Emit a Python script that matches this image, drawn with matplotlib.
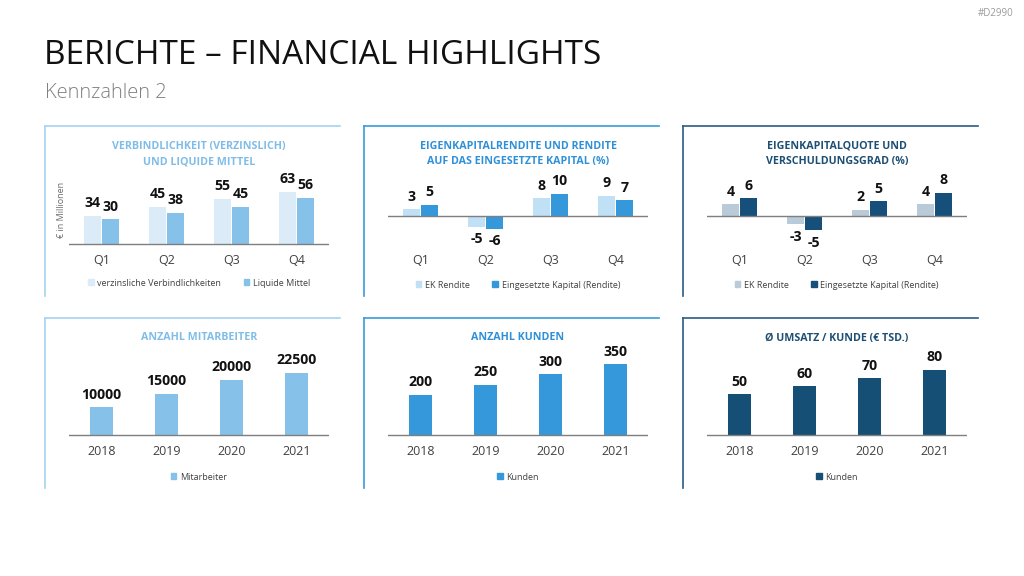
import matplotlib.pyplot as plt
import numpy as np
from matplotlib.lines import Line2D
from matplotlib.patches import Patch

plt.rcParams['font.family'] = ['Open Sans', 'DejaVu Sans']

W, H = 1024, 576

quarters = ["Q1", "Q2", "Q3", "Q4"]
years = ["2018", "2019", "2020", "2021"]

verbindlichkeiten = [34, 45, 55, 63]
liquide_mittel = [30, 38, 45, 56]

ek_rendite = [3, -5, 8, 9]
eingesetztes_kapital = [5, -6, 10, 7]

ek_quote = [4, -3, 2, 4]
verschuldung = [6, -5, 5, 8]

mitarbeiter = [10000, 15000, 20000, 22500]
kunden = [200, 250, 300, 350]
umsatz_kunde = [50, 60, 70, 80]

fig = plt.figure(figsize=(W / 100, H / 100), dpi=100)
fig.patch.set_facecolor("white")


def fx(x):
    return x / W


def fy(y):
    return 1 - y / H


fig.text(fx(44), fy(55), "BERICHTE – FINANCIAL HIGHLIGHTS", fontsize=24,
         color="#111111", va="center", ha="left")
fig.text(fx(45), fy(93), "Kennzahlen 2", fontsize=14.5, color="#808080",
         va="center", ha="left", fontweight="light")
fig.text(fx(1013), fy(13), "#D2990", fontsize=7, color="#9a9a9a",
         va="center", ha="right")


def frame(x0, y0, color):
    # top and left border of a panel
    fig.add_artist(Line2D([fx(x0), fx(x0 + 295)], [fy(y0), fy(y0)],
                          color=color, lw=1.2, transform=fig.transFigure))
    fig.add_artist(Line2D([fx(x0), fx(x0)], [fy(y0), fy(y0 + 170)],
                          color=color, lw=1.2, transform=fig.transFigure))


def panel(x0, top, baseline, scale, cats, series, colors, labels, title,
          tcolor, fcolor, width, title_y, legend_y, ytop, ybot):
    frame(x0 - 24, top, fcolor)
    ax_left = x0
    ax_w = 260
    ymax = (baseline - ytop) / scale
    ymin = -(ybot - baseline) / scale
    ax = fig.add_axes([fx(ax_left), fy(ybot), ax_w / W, (ybot - ytop) / H])
    ax.set_xlim(-0.5, len(cats) - 0.5)
    ax.set_ylim(ymin, ymax)
    x = np.arange(len(cats))
    n = len(series)
    gap = 0.03
    handles = []
    for i, (vals, c, lab) in enumerate(zip(series, colors, labels)):
        off = (i - (n - 1) / 2) * (width + gap)
        bars = ax.bar(x + off, vals, width, color=c, zorder=2)
        for b, v in zip(bars, vals):
            if v >= 0:
                ax.annotate(str(v), (b.get_x() + b.get_width() / 2, v),
                            xytext=(0, 4), textcoords="offset points",
                            ha="center", va="bottom", fontsize=10.2,
                            fontweight="bold", color="#111111")
            else:
                ax.annotate(str(v), (b.get_x() + b.get_width() / 2, v),
                            xytext=(0, -4), textcoords="offset points",
                            ha="center", va="top", fontsize=10.2,
                            fontweight="bold", color="#111111")
        handles.append(Patch(color=c, label=lab))
    ax.axhline(0, color="#7f7f7f", lw=1.0, zorder=3)
    ax.set_xticks(x)
    ax.set_xticklabels(cats, fontsize=9, color="#404040")
    ax.tick_params(axis="x", length=0, pad=3)
    ax.set_yticks([])
    for s in ax.spines.values():
        s.set_visible(False)
    ax.patch.set_alpha(0)
    fig.text(fx(ax_left + ax_w / 2), fy(title_y), title, fontsize=7.7,
             fontweight="bold", color=tcolor, ha="center", va="center",
             linespacing=1.5)
    fig.legend(handles=handles, loc="center",
               bbox_to_anchor=(fx(ax_left + ax_w / 2), fy(legend_y)),
               ncol=len(handles), frameon=False, fontsize=6.5,
               handlelength=0.6, handleheight=0.6, handletextpad=0.4,
               columnspacing=2.5, labelcolor="#404040")
    return ax


# top row
ax1 = panel(69, 126, 244, 0.825, quarters, [verbindlichkeiten, liquide_mittel],
            ["#dbecf8", "#85c1e9"],
            ["verzinsliche Verbindlichkeiten", "Liquide Mittel"],
            "VERBINDLICHKEIT (VERZINSLICH)\nUND LIQUIDE MITTEL",
            "#7fbde8", "#a6d3f1", 0.25, 154, 283, 170, 250)
ax1.set_ylabel("€ in Millionen", fontsize=6.5, color="#6a6a6a", labelpad=2)

panel(388, 126, 215.7, 2.2, quarters, [ek_rendite, eingesetztes_kapital],
      ["#c0e0f5", "#3498db"],
      ["EK Rendite", "Eingesetzte Kapital (Rendite)"],
      "EIGENKAPITALRENDITE UND RENDITE\nAUF DAS EINGESETZTE KAPITAL (%)",
      "#2e90d8", "#3a9bdc", 0.25, 154, 285, 170, 250)

panel(707, 126, 215.7, 2.9, quarters, [ek_quote, verschuldung],
      ["#b9cad8", "#164f7a"],
      ["EK Rendite", "Eingesetzte Kapital (Rendite)"],
      "EIGENKAPITALQUOTE UND\nVERSCHULDUNGSGRAD (%)",
      "#1d4f74", "#2a5c82", 0.25, 154, 285, 170, 250)

# bottom row
panel(69, 318, 435, 62 / 22500, years, [mitarbeiter], ["#85c1e9"],
      ["Mitarbeiter"], "ANZAHL MITARBEITER", "#7fbde8", "#a6d3f1",
      0.34, 338, 477, 355, 441)

panel(388, 318, 435, 70.7 / 350, years, [kunden], ["#3498db"],
      ["Kunden"], "ANZAHL KUNDEN", "#2e90d8", "#3a9bdc",
      0.34, 338, 477, 355, 441)

panel(707, 318, 435, 65 / 80, years, [umsatz_kunde], ["#154f75"],
      ["Kunden"], "Ø UMSATZ / KUNDE (€ TSD.)", "#1d4f74", "#2a5c82",
      0.34, 338, 477, 355, 441)

fig.savefig("out.png", dpi=100, facecolor="white")
